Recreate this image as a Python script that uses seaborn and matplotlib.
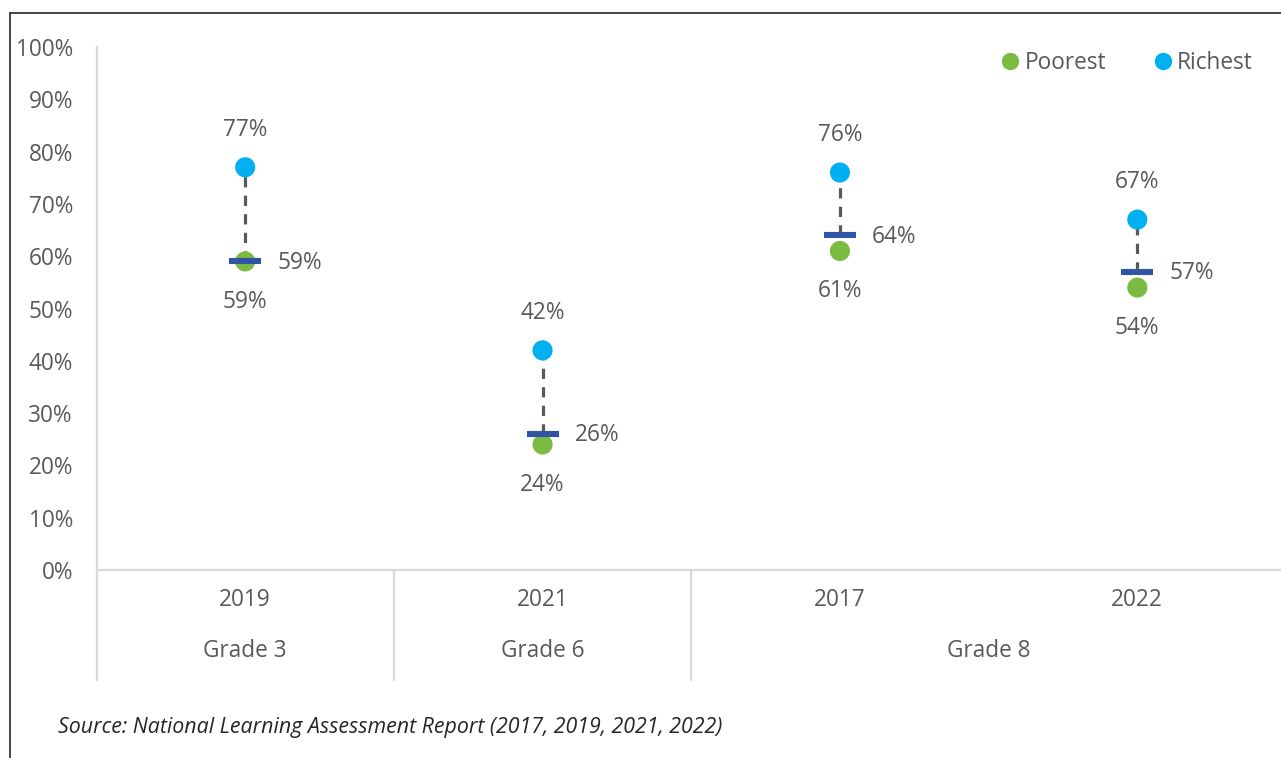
import matplotlib
matplotlib.use("Agg")
import matplotlib.pyplot as plt
import matplotlib.transforms as mtransforms
from matplotlib.lines import Line2D
import seaborn as sns
import pandas as pd

# ---- data ----
years = ["2019", "2021", "2017", "2022"]
grades = ["Grade 3", "Grade 6", "Grade 8"]
grade_centers = [0, 1, 2.5]
poorest = [0.59, 0.24, 0.61, 0.54]
richest = [0.77, 0.42, 0.76, 0.67]
average = [0.59, 0.26, 0.64, 0.57]
series_names = ["Poorest", "Richest"]

TEXT = "#595959"
GREEN = "#7CBB42"
BLUE = "#00B0F0"
NAVY = "#2F55A5"
GRID = "#D9D9D9"
FS = 16.3

sns.set_theme(style="white")
plt.rcParams["font.family"] = ["Open Sans", "DejaVu Sans"]

fig = plt.figure(figsize=(12.81, 7.58), dpi=100)
W, H = 1281, 758
x0, x1 = 96.5, 1286
y0, y1 = 570, 47
ax = fig.add_axes([x0 / W, 1 - y0 / H, (x1 - x0) / W, (y0 - y1) / H])

pos = list(range(len(years)))
df = pd.DataFrame({
    "pos": pos * 2,
    "value": poorest + richest,
    "group": [series_names[0]] * len(pos) + [series_names[1]] * len(pos),
})

# dashed connectors (richest -> average)
ax.vlines(pos, average, richest, colors=TEXT, linestyles=(0, (3.2, 2.6)),
          linewidth=2.3, zorder=1)

sns.scatterplot(data=df, x="pos", y="value", hue="group",
                palette={"Poorest": GREEN, "Richest": BLUE},
                s=210, edgecolor="none", linewidth=0, legend=False, ax=ax, zorder=3)

ax.scatter(pos, average, marker="_", s=560, linewidths=4.4, color=NAVY, zorder=4)

# data labels
for p, v in zip(pos, richest):
    ax.annotate(f"{v*100:.0f}%", (p, v), xytext=(0, 27), textcoords="offset points",
                ha="center", va="center", fontsize=FS, color=TEXT)
for p, v in zip(pos, poorest):
    ax.annotate(f"{v*100:.0f}%", (p, v), xytext=(0, -29), textcoords="offset points",
                ha="center", va="center", fontsize=FS, color=TEXT)
for p, v in zip(pos, average):
    ax.annotate(f"{v*100:.0f}%", (p, v), xytext=(23, -1), textcoords="offset points",
                ha="left", va="center", fontsize=FS, color=TEXT)

ax.set_xlim(-0.5, 3.5)
ax.set_ylim(0, 1.0)
ax.set_yticks([i / 10 for i in range(11)])
ax.set_yticklabels([f"{i*10}%" for i in range(11)])
ax.set_xticks(pos)
ax.set_xticklabels(years)
ax.tick_params(axis="y", length=0, pad=17, labelsize=FS, labelcolor=TEXT)
ax.tick_params(axis="x", length=0, pad=13, labelsize=FS, labelcolor=TEXT)
ax.set_xlabel("")
ax.set_ylabel("")

for s in ["top", "right"]:
    ax.spines[s].set_visible(False)
for s in ["left", "bottom"]:
    ax.spines[s].set_color(GRID)
    ax.spines[s].set_linewidth(1.6)

trans = mtransforms.blended_transform_factory(ax.transData, ax.transAxes)
depth = -(680 - y0) / (y0 - y1)
for xb in [-0.5, 0.5, 1.5]:
    ax.plot([xb, xb], [0, depth], transform=trans, color=GRID, lw=1.6, clip_on=False)
for gc, g in zip(grade_centers, grades):
    ax.text(gc, -(651 - y0) / (y0 - y1), g, transform=trans, ha="center", va="center",
            fontsize=FS, color=TEXT)

# legend
handles = [Line2D([0], [0], marker="o", linestyle="none", markersize=12.5,
                  markerfacecolor=c, markeredgecolor="none") for c in (GREEN, BLUE)]
fig.legend(handles, series_names, loc="center right", bbox_to_anchor=(1250 / W + 0.002, 1 - 63 / H),
           ncol=2, frameon=False, fontsize=FS, labelcolor=TEXT, handletextpad=-0.08,
           handlelength=1.4, columnspacing=1.8, borderaxespad=0, borderpad=0)

# source
fig.text(58 / W, 1 - 728 / H, "Source: National Learning Assessment Report (2017, 2019, 2021, 2022)",
         ha="left", va="center", fontsize=15.4, style="italic", color="#262626")

# outer frame (top and left)
fig.add_artist(Line2D([10 / W, 1], [1 - 13 / H, 1 - 13 / H], color="#262626", lw=1.2))
fig.add_artist(Line2D([10 / W, 10 / W], [0, 1 - 13 / H], color="#262626", lw=1.2))

fig.savefig("out.png", dpi=100)
